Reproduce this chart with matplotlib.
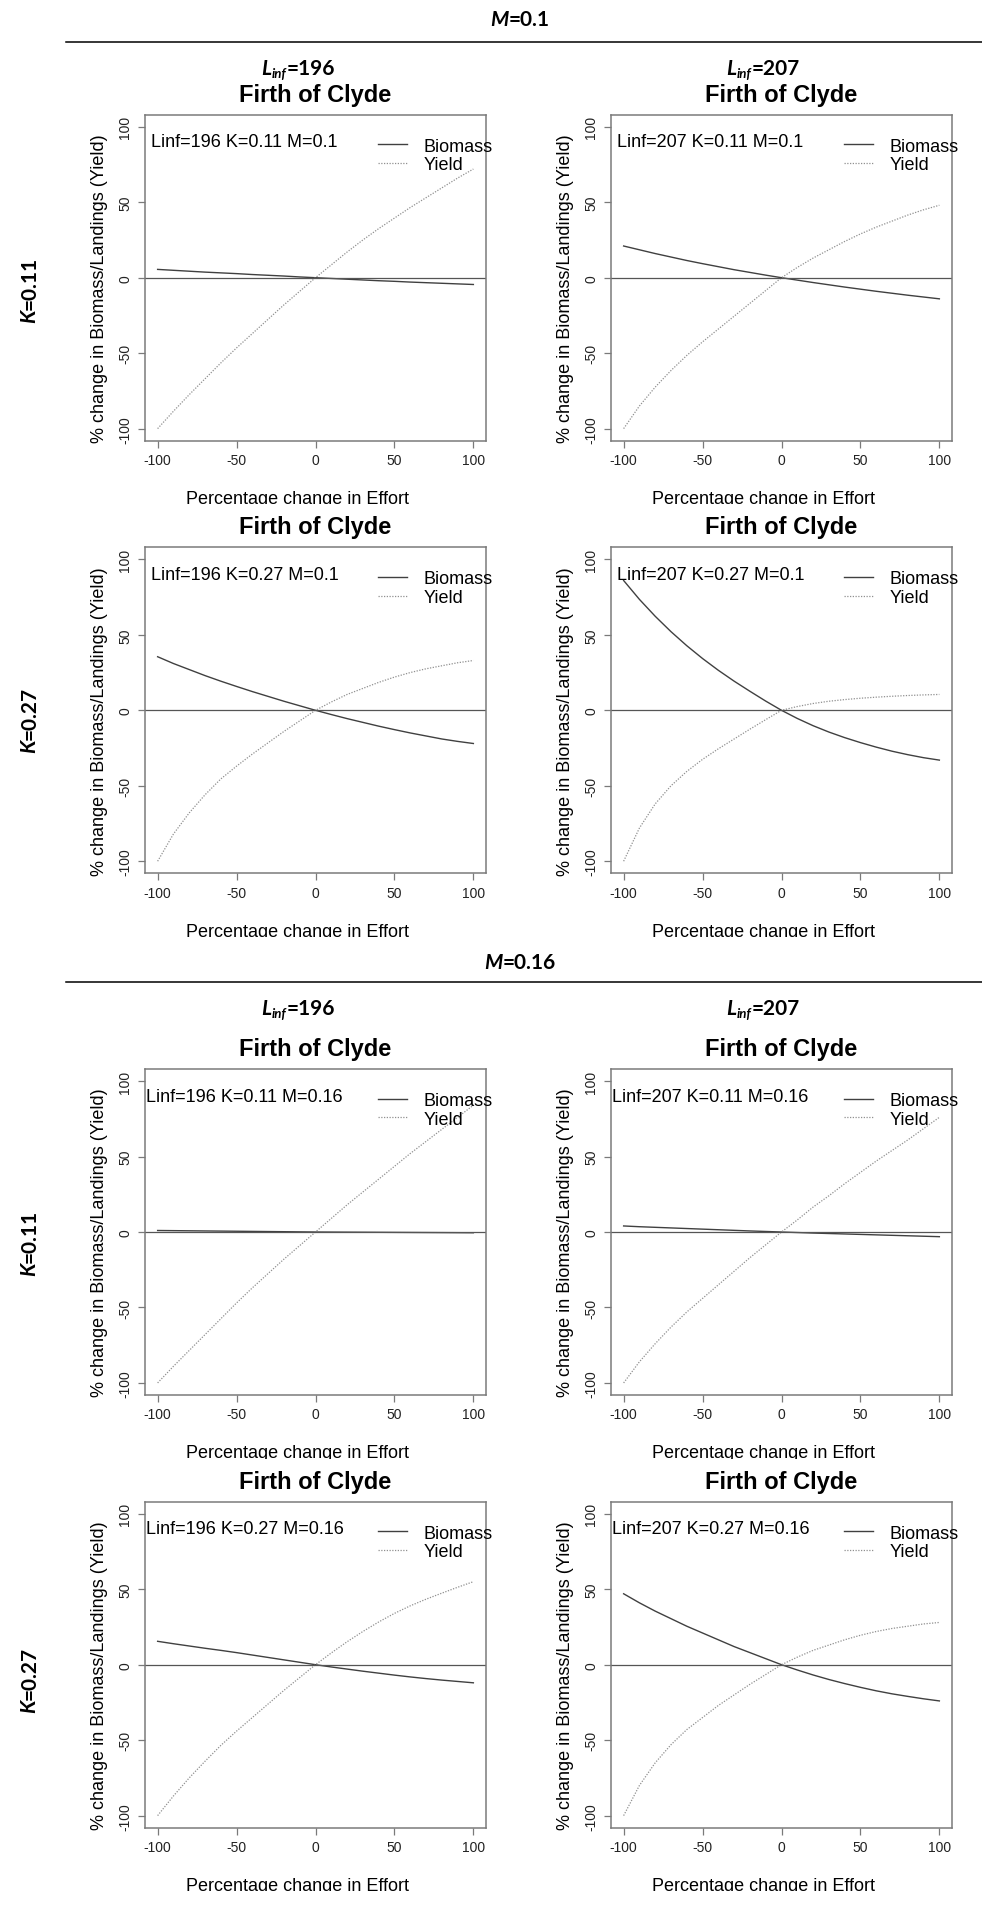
import numpy as np
import matplotlib
matplotlib.use("Agg")
import matplotlib.pyplot as plt
from matplotlib.lines import Line2D
from matplotlib.transforms import Bbox

plt.rcParams['font.family'] = ['Liberation Sans', 'DejaVu Sans']
plt.rcParams['axes.unicode_minus'] = False

W, H, DPI = 982, 1908, 100
HEAD_FONT = ['Lato', 'DejaVu Sans']

# ==============================================
# data (percentage change in effort on x)
# ==============================================
effort = [-100, -90, -80, -70, -60, -50, -40, -30, -20, -10, 0,
          10, 20, 30, 40, 50, 60, 70, 80, 90, 100]

linf_values = [196, 207]
k_values = [0.11, 0.27]
m_values = [0.1, 0.16]

# M=0.1
bio_196_011_01 = [5.5, 4.9, 4.3, 3.7, 3.2, 2.7, 2.1, 1.6, 1.1, 0.5, 0,
                  -0.5, -1.0, -1.5, -2.0, -2.4, -2.9, -3.3, -3.7, -4.1, -4.5]
yld_196_011_01 = [-100, -88.5, -77.5, -67, -56.5, -46.5, -37, -27.5, -18, -9, 0,
                  8.5, 17, 25, 32.5, 39.5, 46.5, 53, 59.5, 66, 72]
bio_207_011_01 = [21, 18.5, 16, 13.7, 11.4, 9.3, 7.3, 5.3, 3.5, 1.7, 0,
                  -1.6, -3.2, -4.7, -6.2, -7.6, -9, -10.3, -11.6, -12.8, -14]
yld_207_011_01 = [-100, -85, -72.5, -61.5, -51.5, -42.5, -34, -25.5, -17, -8.5, 0,
                  6.8, 13, 18.5, 24, 29, 33.5, 37.5, 41.5, 45, 48]
bio_196_027_01 = [35.5, 31, 27, 23, 19.3, 15.8, 12.4, 9.2, 6, 3, 0,
                  -2.8, -5.5, -8, -10.5, -12.8, -15, -17, -19, -20.6, -22]
yld_196_027_01 = [-100, -82, -68, -56, -45.5, -37, -29, -21.5, -14, -7, 0,
                  5.5, 10.5, 14.5, 18.5, 22, 25, 27.5, 29.5, 31.5, 33]
bio_207_027_01 = [86, 73.5, 62.3, 52.1, 42.8, 34.3, 26.5, 19.3, 12.6, 6.1, 0,
                  -5.4, -10.2, -14.4, -18.1, -21.4, -24.4, -27.1, -29.4, -31.4, -33]
yld_207_027_01 = [-100, -78, -62, -50, -40.5, -32.5, -25.5, -19, -12.5, -6.2, 0,
                  2.5, 4.5, 6, 7.1, 8, 8.7, 9.3, 9.8, 10.2, 10.5]

# M=0.16
bio_196_011_016 = [1, 0.9, 0.8, 0.7, 0.6, 0.5, 0.4, 0.3, 0.2, 0.1, 0,
                   -0.05, -0.1, -0.15, -0.2, -0.25, -0.3, -0.35, -0.4, -0.45, -0.5]
yld_196_011_016 = [-100, -89, -78.5, -68, -57.5, -47, -37, -27.5, -18, -9, 0,
                   9, 18, 26.5, 35, 43.5, 52, 60, 68, 76, 84]
bio_207_011_016 = [4, 3.5, 3.1, 2.7, 2.3, 1.9, 1.5, 1.1, 0.7, 0.35, 0,
                   -0.35, -0.7, -1, -1.3, -1.6, -1.9, -2.2, -2.5, -2.8, -3.1]
yld_207_011_016 = [-100, -86, -74, -63, -53, -44, -35, -26, -17, -8.5, 0,
                   8, 16.5, 24, 32, 39.5, 47, 54, 61, 68.5, 76]
bio_196_027_016 = [15.5, 13.9, 12.4, 10.9, 9.5, 8, 6.4, 4.8, 3.2, 1.6, 0,
                   -1.5, -2.9, -4.3, -5.6, -6.9, -8.1, -9.2, -10.2, -11.1, -12]
yld_196_027_016 = [-100, -87, -75, -64, -53.5, -44, -35, -26, -17, -8.5, 0,
                   7.8, 15.2, 22, 28.3, 34, 39, 43.4, 47.4, 51.3, 55]
bio_207_027_016 = [47, 41, 35.5, 30.5, 25.5, 21, 16.5, 12, 8, 4, 0,
                   -3.5, -6.8, -9.8, -12.5, -15, -17.3, -19.3, -21, -22.6, -24]
yld_207_027_016 = [-100, -80, -65, -53, -43, -35, -27, -20, -13, -6.5, 0,
                   5, 9.5, 13, 16.5, 19.5, 22, 24, 25.5, 27, 28]

# (M, K, Linf) -> (biomass, yield)
series = {
    (0.1, 0.11, 196): (bio_196_011_01, yld_196_011_01),
    (0.1, 0.11, 207): (bio_207_011_01, yld_207_011_01),
    (0.1, 0.27, 196): (bio_196_027_01, yld_196_027_01),
    (0.1, 0.27, 207): (bio_207_027_01, yld_207_027_01),
    (0.16, 0.11, 196): (bio_196_011_016, yld_196_011_016),
    (0.16, 0.11, 207): (bio_207_011_016, yld_207_011_016),
    (0.16, 0.27, 196): (bio_196_027_016, yld_196_027_016),
    (0.16, 0.27, 207): (bio_207_027_016, yld_207_027_016),
}

# ==============================================
# layout (pixels from top-left)
# ==============================================
BOX_W, BOX_H = 341, 326
COL_LEFT = [145, 611]
ROW_TOP = [115.7, 548.3, 1070, 1502.7]
K_LABEL_Y = [290, 720, 1243, 1680]
SECTION_M_Y = [26, 969]      # baseline of M=...
SECTION_LINE_Y = [43, 983]
SECTION_LINF_Y = [75, 1015]  # baseline of Linf=...
LINF_X = [298, 763]

fig = plt.figure(figsize=(W / DPI, H / DPI), dpi=DPI)
renderer = fig.canvas.get_renderer()


def rich_text(xc, yb, parts, rotated=False):
    """parts: (text, size, italic, dy). xc/yb in pixels from top-left."""
    objs = []
    for s, size, italic, dy in parts:
        t = fig.text(0, 0, s, fontsize=size, fontweight='bold',
                     fontstyle='italic' if italic else 'normal', family=HEAD_FONT,
                     ha='left', va='baseline', rotation=90 if rotated else 0,
                     rotation_mode='anchor')
        objs.append((t, dy))
    sizes = []
    for t, _ in objs:
        bb = t.get_window_extent(renderer)
        sizes.append(bb.height if rotated else bb.width)
    total = sum(sizes)
    if rotated:
        pos = yb + total / 2
        for (t, dy), s in zip(objs, sizes):
            t.set_position(((xc + dy) / W, 1 - pos / H))
            pos -= s
    else:
        pos = xc - total / 2
        for (t, dy), s in zip(objs, sizes):
            t.set_position((pos / W, 1 - (yb + dy) / H))
            pos += s


for si, m in enumerate(m_values):
    rich_text(520, SECTION_M_Y[si], [('M', 15, True, 0), ('=' + str(m), 15, False, 0)])
    fig.add_artist(Line2D([66 / W, 1], [1 - SECTION_LINE_Y[si] / H] * 2,
                          color='black', lw=1.1))
    for ci, linf in enumerate(linf_values):
        rich_text(LINF_X[ci], SECTION_LINF_Y[si],
                  [('L', 15, True, 0), ('inf', 9.5, True, 3), ('=' + str(linf), 15, False, 0)])

    for ki, k in enumerate(k_values):
        r = si * 2 + ki
        top = ROW_TOP[r]
        rich_text(35.5, K_LABEL_Y[r], [('K', 15, True, 0), ('=' + str(k), 15, False, 0)],
                  rotated=True)
        for ci, linf in enumerate(linf_values):
            bio, yld = series[(m, k, linf)]
            left = COL_LEFT[ci]
            ax = fig.add_axes([left / W, 1 - (top + BOX_H) / H, BOX_W / W, BOX_H / H])
            ax.plot(effort, bio, color='#404040', lw=1.0, label='Biomass')
            ax.plot(effort, yld, color='#909090', lw=0.9, linestyle=(0, (1, 1.2)),
                    label='Yield')
            ax.axhline(0, color='#555555', lw=0.9)
            ax.set_xlim(-108, 108)
            ax.set_ylim(-108, 108)
            ax.set_xticks([-100, -50, 0, 50, 100])
            ax.set_yticks([-100, -50, 0, 50, 100])
            for sp in ax.spines.values():
                sp.set_color('#7a7a7a')
                sp.set_linewidth(1.1)
            ax.tick_params(direction='out', length=5, width=0.9, colors='#7a7a7a',
                           labelcolor='#222222', labelsize=10, pad=4)
            for lbl in ax.get_yticklabels():
                lbl.set_rotation(90)
                lbl.set_va('center')

            ax.text(0.5, 1 + 14 / BOX_H, 'Firth of Clyde', transform=ax.transAxes,
                    ha='center', va='baseline', fontsize=17, fontweight='bold')
            ax.text(-45, 90, f'Linf={linf} K={k} M={m}', ha='center', va='center',
                    fontsize=13)
            ax.legend(loc='upper left', bbox_to_anchor=(0.684, 0.93), frameon=False,
                      fontsize=13, handlelength=1.6, handletextpad=0.9, borderpad=0,
                      borderaxespad=0, labelspacing=0.1)
            ax.text(-45 / BOX_W, 0.5 - 10 / BOX_H, '% change in Biomass/Landings (Yield)',
                    transform=ax.transAxes, rotation=90, ha='center', va='center',
                    fontsize=13)
            # x label, bottom of the glyphs cut off like in the source image
            base = top + BOX_H + 62.5
            xl = ax.text(0.5 - 18 / BOX_W, -(62.5) / BOX_H, 'Percentage change in Effort',
                         transform=ax.transAxes, ha='center', va='baseline', fontsize=13)
            xl.set_clip_on(True)
            xl.set_clip_box(Bbox.from_extents(0, H - (base + 1), W, H))

fig.savefig('out.png', dpi=DPI)
